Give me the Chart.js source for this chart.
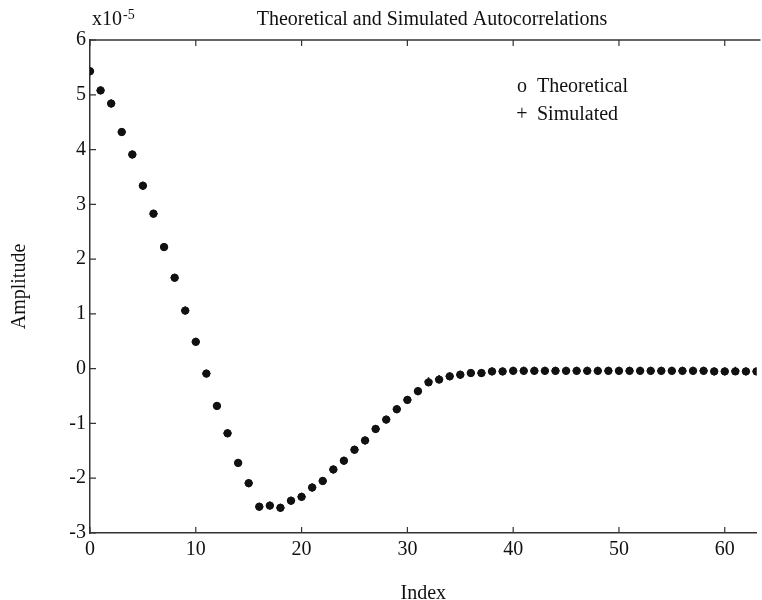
<!DOCTYPE html>
<html>
<head>
<meta charset="utf-8">
<script src="https://cdn.jsdelivr.net/npm/chart.js@4"></script>
<style>
  html, body { margin: 0; padding: 0; background: #fff; }
  #wrap { width: 762px; height: 600px; }
</style>
</head>
<body>
<div id="wrap"><canvas id="chart-autocorr"></canvas></div>
<script>
// lag index 0..63
const lags = [
  0, 1, 2, 3, 4, 5, 6, 7, 8, 9,
  10, 11, 12, 13, 14, 15, 16, 17, 18, 19,
  20, 21, 22, 23, 24, 25, 26, 27, 28, 29,
  30, 31, 32, 33, 34, 35, 36, 37, 38, 39,
  40, 41, 42, 43, 44, 45, 46, 47, 48, 49,
  50, 51, 52, 53, 54, 55, 56, 57, 58, 59,
  60, 61, 62, 63
];

// amplitudes in units of 1e-5
const theoretical = [
  5.43, 5.08, 4.84, 4.32, 3.91, 3.34, 2.83, 2.22, 1.66, 1.06,
  0.49, -0.09, -0.68, -1.18, -1.72, -2.09, -2.52, -2.50, -2.54, -2.41,
  -2.34, -2.17, -2.05, -1.84, -1.68, -1.48, -1.31, -1.10, -0.93, -0.74,
  -0.57, -0.41, -0.25, -0.20, -0.14, -0.11, -0.08, -0.08, -0.05, -0.05,
  -0.04, -0.04, -0.04, -0.04, -0.04, -0.04, -0.04, -0.04, -0.04, -0.04,
  -0.04, -0.04, -0.04, -0.04, -0.04, -0.04, -0.04, -0.04, -0.04, -0.05,
  -0.05, -0.05, -0.05, -0.05
];

const simulated = [
  5.43, 5.08, 4.84, 4.32, 3.91, 3.34, 2.83, 2.22, 1.66, 1.06,
  0.49, -0.09, -0.68, -1.18, -1.72, -2.09, -2.52, -2.50, -2.54, -2.41,
  -2.34, -2.17, -2.05, -1.84, -1.68, -1.48, -1.31, -1.10, -0.93, -0.74,
  -0.57, -0.41, -0.23, -0.19, -0.14, -0.11, -0.08, -0.08, -0.05, -0.05,
  -0.04, -0.04, -0.04, -0.04, -0.04, -0.04, -0.04, -0.04, -0.04, -0.04,
  -0.04, -0.04, -0.04, -0.04, -0.04, -0.04, -0.04, -0.04, -0.04, -0.05,
  -0.05, -0.04, -0.05, -0.05
];

const x_ticks = [0, 10, 20, 30, 40, 50, 60];
const y_ticks = [-3, -2, -1, 0, 1, 2, 3, 4, 5, 6];

const title_text = 'Theoretical and Simulated Autocorrelations';
const legend_items = [['o', 'Theoretical'], ['+', 'Simulated']];

const serif = '"Liberation Serif", "Times New Roman", serif';
const ink = '#111';

function toPoints(values) {
  return lags.map((lag, i) => ({ x: lag, y: values[i] }));
}

// inward ticks, top frame line and the text that matlab puts on top
const decorations = {
  id: 'decorations',
  afterDraw(chart) {
    const ctx = chart.ctx;
    const area = chart.chartArea;
    const xs = chart.scales.x;
    const ys = chart.scales.y;
    const tick = 6;

    ctx.save();
    ctx.strokeStyle = '#333';
    ctx.lineWidth = 1.5;
    ctx.beginPath();
    ctx.moveTo(area.left, area.top);
    ctx.lineTo(area.right + 4, area.top);
    ctx.stroke();

    ctx.lineWidth = 1.2;
    ctx.beginPath();
    x_ticks.forEach(v => {
      const px = xs.getPixelForValue(v);
      ctx.moveTo(px, area.bottom);
      ctx.lineTo(px, area.bottom - tick);
      ctx.moveTo(px, area.top);
      ctx.lineTo(px, area.top + tick);
    });
    y_ticks.forEach(v => {
      const py = ys.getPixelForValue(v);
      ctx.moveTo(area.left, py);
      ctx.lineTo(area.left + tick, py);
    });
    ctx.stroke();

    ctx.fillStyle = ink;
    ctx.textBaseline = 'alphabetic';
    ctx.font = '20px ' + serif;
    ctx.textAlign = 'center';
    ctx.fillText(title_text, 432, 25);

    // exponent label
    ctx.textAlign = 'left';
    ctx.fillText('x10', 92, 25);
    const w = ctx.measureText('x10').width;
    ctx.font = '14px ' + serif;
    ctx.fillText('-5', 92 + w + 1, 19);

    // legend
    ctx.font = '20px ' + serif;
    legend_items.forEach((item, i) => {
      const base = 92 + i * 28;
      ctx.textAlign = 'center';
      ctx.fillText(item[0], 522, base);
      ctx.textAlign = 'left';
      ctx.fillText(item[1], 537, base);
    });
    ctx.restore();
  }
};

const ctx = document.getElementById('chart-autocorr');
const chart = new Chart(ctx, {
  type: 'scatter',
  plugins: [decorations],
  data: {
    datasets: [
      {
        label: 'Theoretical',
        data: toPoints(theoretical),
        pointStyle: 'circle',
        pointRadius: 3.7,
        backgroundColor: ink,
        borderColor: ink,
        borderWidth: 1
      },
      {
        label: 'Simulated',
        data: toPoints(simulated),
        pointStyle: 'cross',
        pointRadius: 4,
        borderColor: ink,
        borderWidth: 1.5
      }
    ]
  },
  options: {
    responsive: true,
    maintainAspectRatio: false,
    animation: false,
    layout: {
      padding: { top: 40, right: 3, left: 0, bottom: 0 }
    },
    scales: {
      x: {
        type: 'linear',
        min: 0,
        max: 63,
        afterFit: scale => { scale.height = 67; },
        afterBuildTicks: scale => { scale.ticks = x_ticks.map(v => ({ value: v })); },
        grid: { display: false, drawTicks: false },
        border: { display: true, color: '#333', width: 1.5 },
        ticks: {
          padding: 5,
          color: ink,
          maxRotation: 0,
          font: { family: serif, size: 20 }
        },
        title: {
          display: true,
          text: 'Index',
          color: ink,
          padding: 0,
          font: { family: serif, size: 20, lineHeight: 0.6 }
        }
      },
      y: {
        min: -3,
        max: 6,
        afterFit: scale => { scale.width = 90; },
        afterBuildTicks: scale => { scale.ticks = y_ticks.map(v => ({ value: v })); },
        grid: { display: false, drawTicks: false },
        border: { display: true, color: '#333', width: 1.5 },
        ticks: {
          padding: 4,
          color: ink,
          font: { family: serif, size: 20 }
        },
        title: {
          display: true,
          text: 'Amplitude',
          color: ink,
          padding: { top: 10, bottom: 0 },
          font: { family: serif, size: 20, lineHeight: 1 }
        }
      }
    },
    plugins: {
      legend: { display: false },
      title: { display: false },
      tooltip: { enabled: false }
    }
  }
});
</script>
</body>
</html>
